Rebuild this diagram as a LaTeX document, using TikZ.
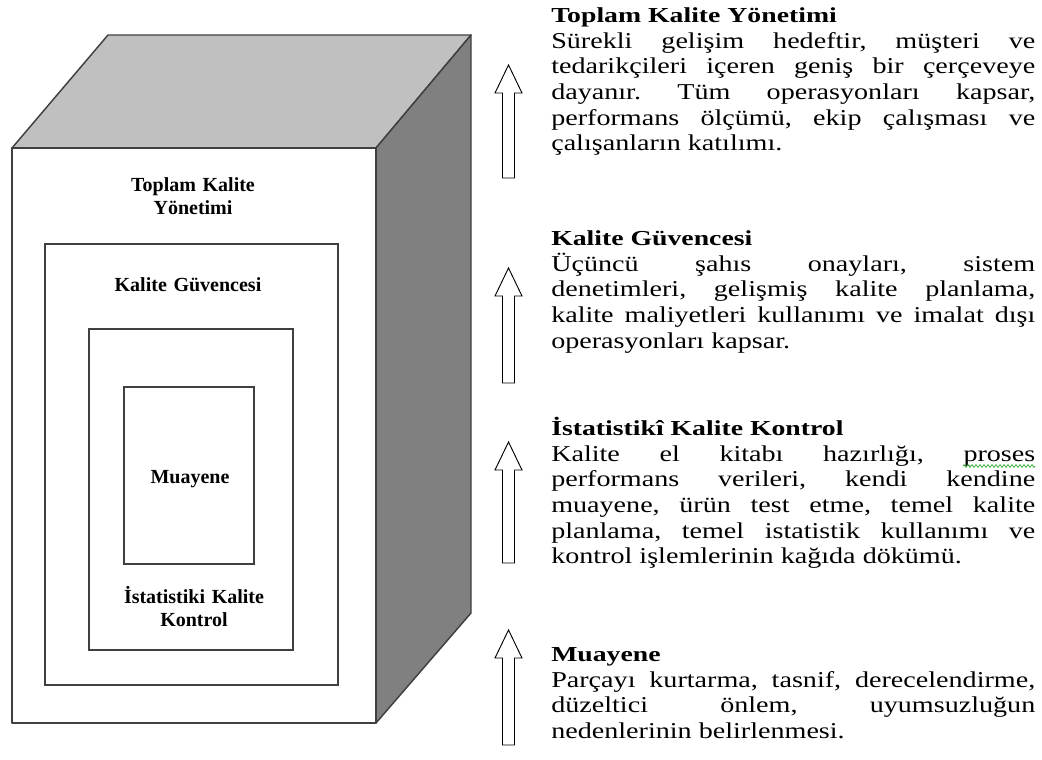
\documentclass[tikz,border=0pt]{standalone}
\usepackage{fontspec}
\setmainfont{Liberation Serif}
\newfontfamily\bodyfont{Liberation Serif}[FakeStretch=1.24]
\newfontfamily\headfont{Liberation Serif}[FakeStretch=1.3]
\usetikzlibrary{decorations.pathmorphing}
\definecolor{topgray}{HTML}{C0C0C0}
\definecolor{sidegray}{HTML}{808080}
\definecolor{edgegray}{HTML}{404040}
\definecolor{squig}{HTML}{3FAF3F}
\newcommand{\bodysetup}{\bodyfont\fontsize{17}{19.3}\selectfont\frenchspacing\tolerance=10000\hbadness=10000\hyphenpenalty=10000\exhyphenpenalty=10000}
\begin{document}
\begin{tikzpicture}[x=0.75pt,y=-0.75pt,
  face/.style={draw=edgegray, line width=1.1pt, line join=round},
  inbox/.style={draw=edgegray, line width=1.1pt},
  cubelabel/.style={font=\bfseries\fontsize{15}{17.5}\selectfont, text width=160pt, align=center, inner sep=0pt, anchor=base},
  headtext/.style={font=\headfont\bfseries\fontsize{16}{19}\selectfont, inner sep=0pt, anchor=base west},
  bodytext/.style={font=\bodysetup, text width=363pt, align=justify, inner sep=0pt, anchor=base west},
  pics/uparrow/.style={code={
    \draw[black, line width=0.7pt, fill=white, line join=miter]
      (0,0) -- (13.5,28) -- (6,28) -- (6,#1) -- (-6,#1) -- (-6,28) -- (-13.5,28) -- cycle;}}
]
\useasboundingbox (0,0) rectangle (1042,760);

% cube
\filldraw[face, fill=topgray] (12,148) -- (108,35) -- (471,35) -- (376,148) -- cycle;
\filldraw[face, fill=sidegray] (376,148) -- (471,35) -- (471,613) -- (376,723) -- cycle;
\filldraw[face, fill=white] (12,148) rectangle (376,723);
\draw[inbox] (45,244) rectangle (338,685);
\draw[inbox] (89,329) rectangle (293,650);
\draw[inbox] (124,387) rectangle (254,564);

\node[cubelabel] (ltkm) at (193,191) {Toplam Kalite\\Yönetimi};
\node[cubelabel] (lkg) at (188,291) {Kalite Güvencesi};
\node[cubelabel] (lmu) at (190,483) {Muayene};
\node[cubelabel] (likk) at (194,603) {İstatistiki Kalite\\Kontrol};

% arrows
\pic at (508.5,65) {uparrow=113};
\pic at (508.5,268) {uparrow=115};
\pic at (508.5,442) {uparrow=121};
\pic at (508.5,630) {uparrow=115};

% right texts
\node[headtext] (h1) at (551,22) {Toplam Kalite Yönetimi};
\node[bodytext] (b1) at (551,48) {Sürekli gelişim hedeftir, müşteri ve\linebreak
tedarikçileri içeren geniş bir çerçeveye\linebreak
dayanır. Tüm operasyonları kapsar,\linebreak
performans ölçümü, ekip çalışması ve\linebreak
çalışanların katılımı.};

\node[headtext] (h2) at (551,245) {Kalite Güvencesi};
\node[bodytext] (b2) at (551,271) {Üçüncü şahıs onayları, sistem\linebreak
denetimleri, gelişmiş kalite planlama,\linebreak
kalite maliyetleri kullanımı ve imalat dışı\linebreak
operasyonları kapsar.};

\node[headtext] (h3) at (551,435) {İstatistikî Kalite Kontrol};
\node[bodytext] (b3) at (551,461) {Kalite el kitabı hazırlığı, proses\linebreak
performans verileri, kendi kendine\linebreak
muayene, ürün test etme, temel kalite\linebreak
planlama, temel istatistik kullanımı ve\linebreak
kontrol işlemlerinin kağıda dökümü.};

\node[headtext] (h4) at (551,661) {Muayene};
\node[bodytext] (b4) at (551,687) {Parçayı kurtarma, tasnif, derecelendirme,\linebreak
düzeltici önlem, uyumsuzluğun\linebreak
nedenlerinin belirlenmesi.};

\draw[squig, line width=0.6pt, decorate, decoration={zigzag, segment length=3pt, amplitude=1pt}] (963,466) -- (1035,466);
\end{tikzpicture}
\end{document}
